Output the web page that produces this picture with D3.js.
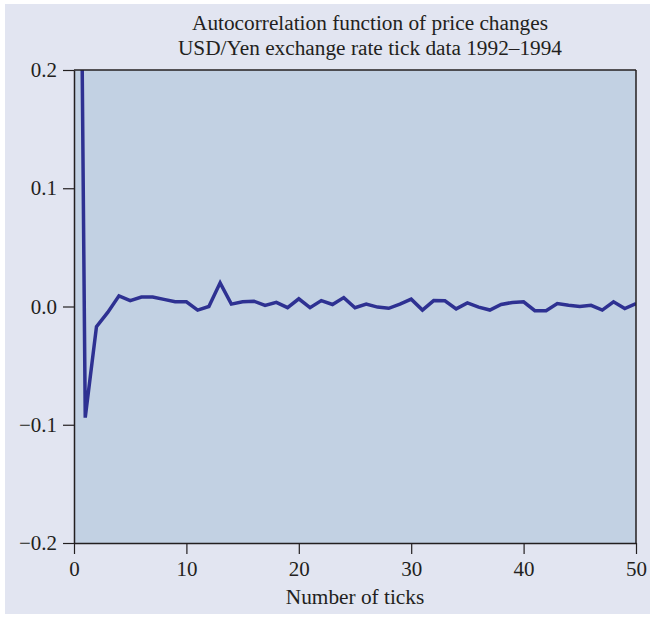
<!DOCTYPE html>
<html>
<head>
<meta charset="utf-8">
<script src="https://cdn.jsdelivr.net/npm/d3@7"></script>
<style>
  body { margin: 0; background: #ffffff; }
  text { font-family: "Liberation Serif", "Times New Roman", serif; fill: #231f20; }
</style>
</head>
<body>
<div id="chart-area"></div>
<script>
// Datos: autocorrelación por retardo (lag 0..50)
var lags = d3.range(0, 51);
var acf = [1.0, -0.094, -0.017, -0.005, 0.009, 0.005, 0.008, 0.008, 0.006, 0.004,
           0.004, -0.003, 0.000, 0.020, 0.002, 0.004, 0.0045, 0.001, 0.0035, -0.001,
           0.0065, -0.001, 0.005, 0.0017, 0.0075, -0.001, 0.002, -0.0005, -0.0015, 0.002,
           0.0062, -0.003, 0.005, 0.0048, -0.002, 0.003, -0.0005, -0.003, 0.0017, 0.0034,
           0.004, -0.0035, -0.0035, 0.0025, 0.001, 0.0, 0.001, -0.003, 0.004, -0.0017,
           0.0025];
var xTicks = [0, 10, 20, 30, 40, 50];
var yTicks = [-0.2, -0.1, 0.0, 0.1, 0.2];
var titleLines = ["Autocorrelation function of price changes",
                  "USD/Yen exchange rate tick data 1992\u20131994"];
var xLabel = "Number of ticks";

var width = 650, height = 618;
var margin = {top: 70, right: 14, bottom: 75, left: 74};

var svg = d3.select("#chart-area").append("svg")
    .attr("width", width)
    .attr("height", height);

// Fondo lavanda
svg.append("rect")
    .attr("x", 5).attr("y", 4)
    .attr("width", width - 5).attr("height", 610)
    .attr("fill", "#e2e5f1");

var x = d3.scaleLinear().domain([0, 50]).range([margin.left, width - margin.right]);
var y = d3.scaleLinear().domain([-0.2, 0.2]).range([height - margin.bottom, margin.top]);

// Área del gráfico
svg.append("rect")
    .attr("x", x(0)).attr("y", y(0.2))
    .attr("width", x(50) - x(0)).attr("height", y(-0.2) - y(0.2))
    .attr("fill", "#c2d1e3");

svg.append("clipPath").attr("id", "clip")
  .append("rect")
    .attr("x", x(0)).attr("y", y(0.2))
    .attr("width", x(50) - x(0)).attr("height", y(-0.2) - y(0.2));

var line = d3.line()
    .x(function(d, i) { return x(lags[i]); })
    .y(function(d) { return y(d); });

svg.append("path")
    .datum(acf)
    .attr("clip-path", "url(#clip)")
    .attr("d", line)
    .attr("fill", "none")
    .attr("stroke", "#2e3192")
    .attr("stroke-width", 3.5)
    .attr("stroke-linejoin", "miter");

// Marco superior y derecho
svg.append("line")
    .attr("x1", x(0)).attr("x2", x(50))
    .attr("y1", y(0.2)).attr("y2", y(0.2))
    .attr("stroke", "#231f20").attr("stroke-width", 1.5);
svg.append("line")
    .attr("x1", x(50)).attr("x2", x(50))
    .attr("y1", y(0.2)).attr("y2", y(-0.2))
    .attr("stroke", "#231f20").attr("stroke-width", 1.5);

// Ejes
var fmtY = function(d) { return d3.format(".1f")(d).replace("-", "\u2212"); };

var gx = svg.append("g")
    .attr("transform", "translate(0," + y(-0.2) + ")")
    .call(d3.axisBottom(x).tickValues(xTicks).tickSize(11).tickPadding(7).tickSizeOuter(0));
var gy = svg.append("g")
    .attr("transform", "translate(" + x(0) + ",0)")
    .call(d3.axisLeft(y).tickValues(yTicks).tickFormat(fmtY).tickSize(11).tickPadding(6).tickSizeOuter(0));

[gx, gy].forEach(function(g) {
    g.select(".domain").attr("stroke", "#231f20").attr("stroke-width", 1.5);
    g.selectAll(".tick line").attr("stroke", "#231f20").attr("stroke-width", 1.2);
    g.selectAll("text")
        .attr("font-family", "Liberation Serif, serif")
        .attr("font-size", 21)
        .attr("fill", "#231f20");
});

// Título
svg.selectAll(".title")
    .data(titleLines)
  .enter().append("text")
    .attr("class", "title")
    .attr("x", 370)
    .attr("y", function(d, i) { return 30 + i * 25; })
    .attr("text-anchor", "middle")
    .attr("font-size", 21.3)
    .text(function(d) { return d; });

// Etiqueta del eje x
svg.append("text")
    .attr("x", (x(0) + x(50)) / 2)
    .attr("y", 604)
    .attr("text-anchor", "middle")
    .attr("font-size", 21.3)
    .text(xLabel);
</script>
</body>
</html>
